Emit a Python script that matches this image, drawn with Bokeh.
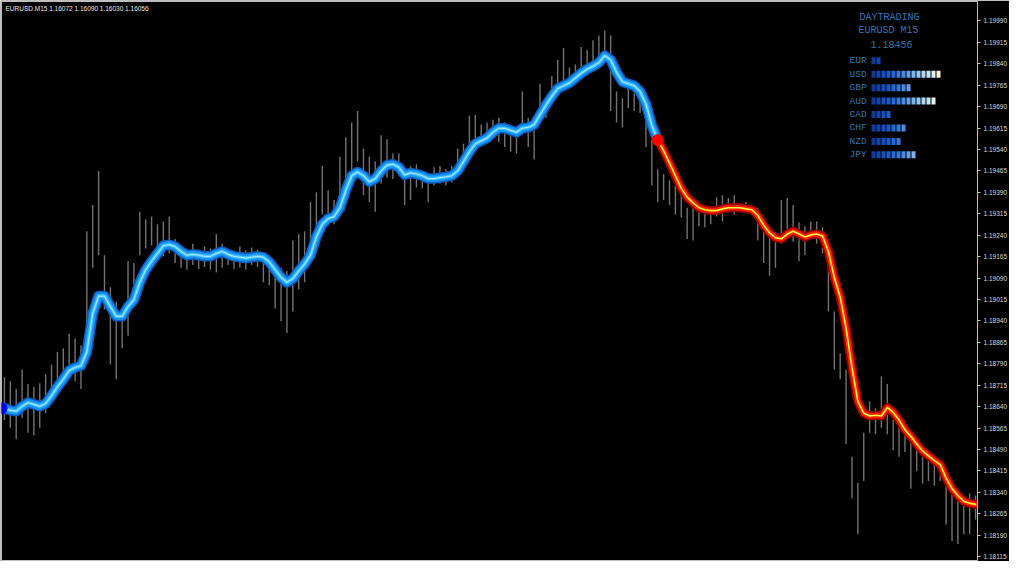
import numpy as np
from bokeh.plotting import figure
from bokeh.models import Range1d, FixedTicker, NumeralTickFormatter
from bokeh.core.properties import value
from bokeh.embed import file_html
from bokeh.resources import INLINE

# ---------------- data ----------------
symbol = "EURUSD.M15"
header_ohlc = ["1.16072", "1.16090", "1.16030", "1.16056"]

bar_high = [
    1.18743, 1.18729, 1.18702, 1.18770, 1.18719, 1.18709, 1.18722, 1.18753, 1.18787, 1.18831,
    1.18844, 1.18895, 1.18878, 1.18854, 1.19254, 1.19346, 1.19465, 1.19170, 1.19058, 1.19007,
    1.18956, 1.19149, 1.19143, 1.19322, 1.19295, 1.19305, 1.19278, 1.19288, 1.19305, 1.19227,
    1.19204, 1.19193, 1.19210, 1.19190, 1.19200, 1.19193, 1.19244, 1.19210, 1.19190, 1.19183,
    1.19200, 1.19187, 1.19197, 1.19190, 1.19176, 1.19170, 1.19149, 1.19126, 1.19115, 1.19221,
    1.19244, 1.19254, 1.19356, 1.19390, 1.19482, 1.19397, 1.19363, 1.19515, 1.19583, 1.19634,
    1.19675, 1.19543, 1.19515, 1.19498, 1.19590, 1.19576, 1.19526, 1.19526, 1.19475, 1.19482,
    1.19488, 1.19465, 1.19458, 1.19478, 1.19482, 1.19471, 1.19482, 1.19543, 1.19560, 1.19658,
    1.19661, 1.19627, 1.19634, 1.19644, 1.19651, 1.19634, 1.19617, 1.19600, 1.19743, 1.19651,
    1.19651, 1.19770, 1.19719, 1.19797, 1.19854, 1.19895, 1.19827, 1.19837, 1.19899, 1.19888,
    1.19922, 1.19939, 1.19956, 1.19939, 1.19743, 1.19719, 1.19763, 1.19736, 1.19743, 1.19644,
    1.19573, 1.19471, 1.19454, 1.19431, 1.19414, 1.19390, 1.19336, 1.19346, 1.19329, 1.19319,
    1.19336, 1.19373, 1.19380, 1.19370, 1.19380, 1.19353, 1.19356, 1.19346, 1.19336, 1.19278,
    1.19271, 1.19251, 1.19363, 1.19370, 1.19346, 1.19285, 1.19271, 1.19288, 1.19288, 1.19268,
    1.19221, 1.18973, 1.18827, 1.18770, 1.18465, 1.18373, 1.18549, 1.18658, 1.18634, 1.18746,
    1.18719, 1.18593, 1.18583, 1.18566, 1.18515, 1.18522, 1.18465, 1.18475, 1.18441, 1.18431,
    1.18380, 1.18346, 1.18312, 1.18319, 1.18336, 1.18329,
]
bar_low = [
    1.18593, 1.18566, 1.18526, 1.18600, 1.18549, 1.18539, 1.18566, 1.18617, 1.18675, 1.18709,
    1.18729, 1.18743, 1.18729, 1.18702, 1.18793, 1.19126, 1.19170, 1.18980, 1.18787, 1.18736,
    1.18844, 1.18888, 1.19000, 1.19170, 1.19193, 1.19204, 1.19187, 1.19166, 1.19176, 1.19143,
    1.19126, 1.19119, 1.19136, 1.19122, 1.19129, 1.19119, 1.19109, 1.19126, 1.19136, 1.19122,
    1.19126, 1.19119, 1.19136, 1.19129, 1.19075, 1.19065, 1.18983, 1.18939, 1.18898, 1.18973,
    1.19051, 1.19075, 1.19183, 1.19204, 1.19312, 1.19285, 1.19278, 1.19356, 1.19397, 1.19448,
    1.19498, 1.19380, 1.19356, 1.19322, 1.19421, 1.19441, 1.19437, 1.19448, 1.19346, 1.19363,
    1.19407, 1.19404, 1.19356, 1.19414, 1.19421, 1.19414, 1.19424, 1.19458, 1.19465, 1.19526,
    1.19549, 1.19556, 1.19560, 1.19593, 1.19566, 1.19549, 1.19532, 1.19526, 1.19593, 1.19549,
    1.19505, 1.19634, 1.19651, 1.19702, 1.19729, 1.19753, 1.19763, 1.19770, 1.19787, 1.19810,
    1.19814, 1.19854, 1.19871, 1.19675, 1.19634, 1.19617, 1.19685, 1.19675, 1.19668, 1.19549,
    1.19414, 1.19356, 1.19363, 1.19346, 1.19312, 1.19302, 1.19227, 1.19221, 1.19271, 1.19268,
    1.19278, 1.19305, 1.19288, 1.19319, 1.19312, 1.19322, 1.19319, 1.19322, 1.19221, 1.19143,
    1.19098, 1.19126, 1.19210, 1.19234, 1.19217, 1.19149, 1.19170, 1.19234, 1.19210, 1.19176,
    1.18973, 1.18770, 1.18736, 1.18509, 1.18319, 1.18193, 1.18380, 1.18549, 1.18543, 1.18566,
    1.18543, 1.18488, 1.18465, 1.18481, 1.18353, 1.18414, 1.18370, 1.18380, 1.18363, 1.18380,
    1.18227, 1.18170, 1.18159, 1.18193, 1.18193, 1.18244,
]

# smoothed average: rising part (blue), bars 0..111
ma_up = [
    1.18634, 1.18627, 1.18624, 1.18641, 1.18654, 1.18648, 1.18641, 1.18651, 1.18678, 1.18709,
    1.18736, 1.18766, 1.18777, 1.18783, 1.18831, 1.18966, 1.19027, 1.19027, 1.18990, 1.18956,
    1.18956, 1.18990, 1.19014, 1.19075, 1.19119, 1.19149, 1.19176, 1.19203, 1.19207, 1.19200,
    1.19183, 1.19170, 1.19173, 1.19170, 1.19166, 1.19166, 1.19176, 1.19183, 1.19173, 1.19166,
    1.19163, 1.19160, 1.19163, 1.19166, 1.19163, 1.19146, 1.19119, 1.19092, 1.19075, 1.19088,
    1.19115, 1.19139, 1.19170, 1.19234, 1.19278, 1.19298, 1.19305, 1.19336, 1.19397, 1.19448,
    1.19461, 1.19448, 1.19427, 1.19438, 1.19465, 1.19485, 1.19488, 1.19478, 1.19451, 1.19458,
    1.19454, 1.19448, 1.19438, 1.19438, 1.19441, 1.19444, 1.19448, 1.19465, 1.19498, 1.19532,
    1.19560, 1.19570, 1.19580, 1.19600, 1.19614, 1.19614, 1.19607, 1.19600, 1.19614, 1.19617,
    1.19627, 1.19661, 1.19695, 1.19726, 1.19753, 1.19763, 1.19773, 1.19790, 1.19807, 1.19821,
    1.19831, 1.19844, 1.19868, 1.19854, 1.19810, 1.19777, 1.19770, 1.19763, 1.19743, 1.19699,
    1.19624, 1.19573,
]
# falling part (red), bars 111..165
ma_down_start = 111
ma_down = [
    1.19573, 1.19536, 1.19492, 1.19448, 1.19404, 1.19373, 1.19353, 1.19336, 1.19329, 1.19326,
    1.19326, 1.19332, 1.19336, 1.19336, 1.19336, 1.19332, 1.19329, 1.19309, 1.19275, 1.19248,
    1.19231, 1.19227, 1.19244, 1.19254, 1.19244, 1.19234, 1.19241, 1.19244, 1.19237, 1.19183,
    1.19092, 1.19024, 1.18915, 1.18777, 1.18658, 1.18617, 1.18607, 1.18610, 1.18607, 1.18637,
    1.18620, 1.18593, 1.18559, 1.18536, 1.18509, 1.18485, 1.18468, 1.18451, 1.18437, 1.18390,
    1.18353, 1.18329, 1.18309, 1.18302, 1.18298,
]

price_ticks = [
    1.19990, 1.19915, 1.19840, 1.19765, 1.19690, 1.19615, 1.19540, 1.19465, 1.19390,
    1.19315, 1.19240, 1.19165, 1.19090, 1.19015, 1.18940, 1.18865, 1.18790, 1.18715,
    1.18640, 1.18565, 1.18490, 1.18415, 1.18340, 1.18265, 1.18190, 1.18115,
]

panel_lines = ["DAYTRADING", "EURUSD M15", "1.18456"]
currencies = ["EUR", "USD", "GBP", "AUD", "CAD", "CHF", "NZD", "JPY"]
strength = [2, 14, 8, 13, 4, 7, 6, 9]

# ---------------- styling / layout ----------------
block_palette = ["#0d3b9c", "#0f45b0", "#1450c0", "#1a5ccc", "#2468d6", "#3478de", "#4a8ae4",
                 "#629ee8", "#7ab2ec", "#94c6ee", "#aed6f0", "#c6e4f2", "#e4f0f2", "#fff2d6"]
PANEL_TXT = "#2f74b5"

FW, FH = 976, 559
XMIN, XMAX = -0.5, 165.33
YMIN, YMAX = 1.181015, 1.200578
ux = (XMAX - XMIN) / FW
uy = (YMAX - YMIN) / FH

p = figure(frame_width=FW, frame_height=FH,
           x_range=Range1d(XMIN, XMAX), y_range=Range1d(YMIN, YMAX),
           output_backend="svg", toolbar_location=None,
           x_axis_location=None, y_axis_location="right",
           background_fill_color="black", border_fill_color="black",
           min_border_left=1, min_border_right=0, min_border_top=1, min_border_bottom=1)
p.grid.visible = False
p.outline_line_color = "#bdbdbd"
p.outline_line_width = 1

ax = p.yaxis[0]
ax.ticker = FixedTicker(ticks=price_ticks)
ax.formatter = NumeralTickFormatter(format="0.00000")
ax.major_label_text_font = "Liberation Sans"
ax.major_label_text_font_size = "6.5px"
ax.major_label_text_color = "#d8d8d8"
ax.axis_line_color = "#bdbdbd"
ax.major_tick_line_color = "#bdbdbd"
ax.major_tick_in = 0
ax.major_tick_out = 3
ax.minor_tick_line_color = None
ax.major_label_standoff = 3

# price bars
idx = np.arange(len(bar_high))
p.segment(x0=idx, y0=bar_low, x1=idx, y1=bar_high, line_color="#727272", line_width=1.4)

# rising average (blue glow)
xu = np.arange(len(ma_up))
for w, c in [(10.5, "#0a5cc0"), (7.5, "#1890f0"), (3.5, "#3cc0ff"), (1.2, "#9fe6ff")]:
    p.line(xu, ma_up, line_width=w, line_color=c, line_join="round", line_cap="round")

# falling average (red glow)
xd = np.arange(ma_down_start, ma_down_start + len(ma_down))
for w, c in [(9, "#9a0000"), (5.5, "#ff1a00"), (1.6, "#ffff30")]:
    p.line(xd, ma_down, line_width=w, line_color=c, line_join="round", line_cap="round")

p.scatter(x=[xd[0]], y=[ma_down[0]], size=11, color="#ff0000")
p.scatter(x=[XMIN], y=[ma_up[0]], size=11, color="#0000ff")

# header text
p.text(x=[XMIN + 4 * ux], y=[YMAX - 7 * uy],
       text=[symbol + "  " + " ".join(header_ohlc)],
       text_font=value("Liberation Sans"), text_font_size="6.5px", text_color="#e6e6e6",
       text_align="left", text_baseline="middle")

# info panel (top right)
panel_cx = [88, 89, 86]
panel_cy = [15.7, 29.3, 42.7]
p.text(x=[XMAX - d * ux for d in panel_cx], y=[YMAX - d * uy for d in panel_cy],
       text=panel_lines, text_font=value("Liberation Mono"), text_font_size="10px",
       text_color=PANEL_TXT, text_align="center", text_baseline="middle")

row_y = [59.3 + 13.43 * r for r in range(len(currencies))]
p.text(x=[XMAX - 128 * ux] * len(currencies), y=[YMAX - d * uy for d in row_y],
       text=currencies, text_font=value("Liberation Mono"), text_font_size="9.5px",
       text_color=PANEL_TXT, text_align="left", text_baseline="middle")

bx, by, bc = [], [], []
for r, n in enumerate(strength):
    for k in range(n):
        bx.append(XMAX - (106 - 5 * k - 2) * ux)
        by.append(YMAX - row_y[r] * uy)
        bc.append(block_palette[k])
p.rect(x=bx, y=by, width=4 * ux, height=7 * uy, fill_color=bc, line_color=None)

open("out.html", "w").write(file_html(p, INLINE))
